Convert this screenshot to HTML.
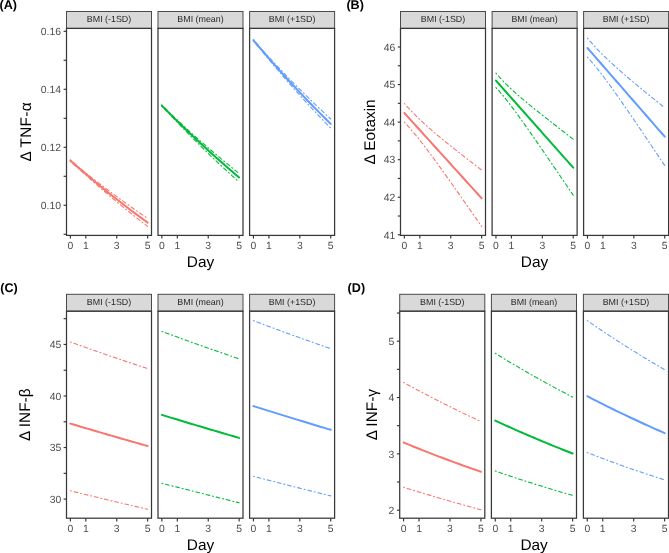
<!DOCTYPE html>
<html><head><meta charset="utf-8"><title>Cytokine trajectories by BMI</title>
<style>html,body{margin:0;padding:0;background:#fff;}body{width:669px;height:553px;overflow:hidden;position:relative;font-family:"Liberation Sans",sans-serif;}svg text{text-rendering:geometricPrecision;}</style>
</head><body>
<svg width="669" height="553" viewBox="0 0 669 553" style="position:absolute;left:0;top:0;will-change:transform">
<rect x="0" y="0" width="669" height="553" fill="#ffffff"/>
<text x="-0.5" y="9.3" font-family='"Liberation Sans", sans-serif' font-weight="bold" font-size="12.6" fill="#000">(A)</text>
<rect x="66.5" y="11.5" width="85" height="16.9" fill="#D9D9D9" stroke="#4A4A4A" stroke-width="1.0"/>
<text x="109" y="22.4" text-anchor="middle" font-family='"Liberation Sans", sans-serif' font-size="8.9" fill="#262626">BMI (-1SD)</text>
<path d="M70.36,159.9 L73.58,162.78 L76.8,165.56 L80.02,168.26 L83.24,170.9 L86.46,173.5 L89.68,176.06 L92.9,178.59 L96.12,181.1 L99.34,183.58 L102.56,186.04 L105.78,188.48 L109,190.89 L112.22,193.29 L115.44,195.66 L118.66,198.02 L121.88,200.36 L125.1,202.68 L128.32,204.98 L131.54,207.26 L134.76,209.52 L137.98,211.77 L141.2,214 L144.42,216.21 L147.64,218.4" fill="none" stroke="#F8766D" stroke-width="1.1" stroke-linecap="round" stroke-linejoin="round" stroke-dasharray="0.95 2.85 3.8 2.85"/>
<path d="M70.36,161.3 L73.58,164.12 L76.8,166.97 L80.02,169.84 L83.24,172.73 L86.46,175.61 L89.68,178.48 L92.9,181.34 L96.12,184.17 L99.34,186.98 L102.56,189.78 L105.78,192.54 L109,195.29 L112.22,198.01 L115.44,200.71 L118.66,203.38 L121.88,206.03 L125.1,208.66 L128.32,211.26 L131.54,213.84 L134.76,216.4 L137.98,218.93 L141.2,221.45 L144.42,223.93 L147.64,226.4" fill="none" stroke="#F8766D" stroke-width="1.1" stroke-linecap="round" stroke-linejoin="round" stroke-dasharray="0.95 2.85 3.8 2.85"/>
<path d="M70.36,160.6 L73.58,163.44 L76.8,166.27 L80.02,169.06 L83.24,171.84 L86.46,174.58 L89.68,177.31 L92.9,180.01 L96.12,182.69 L99.34,185.35 L102.56,187.98 L105.78,190.6 L109,193.19 L112.22,195.75 L115.44,198.3 L118.66,200.82 L121.88,203.33 L125.1,205.81 L128.32,208.27 L131.54,210.71 L134.76,213.13 L137.98,215.53 L141.2,217.9 L144.42,220.26 L147.64,222.6" fill="none" stroke="#F8766D" stroke-width="2.0" stroke-linejoin="round" stroke-linecap="round"/>
<rect x="66.5" y="28.4" width="85" height="207" fill="none" stroke="#383838" stroke-width="1.25"/>
<line x1="70.36" y1="235.4" x2="70.36" y2="238.6" stroke="#333333" stroke-width="1.15"/>
<text x="70.36" y="249.2" text-anchor="middle" font-family='"Liberation Sans", sans-serif' font-size="10.4" fill="#4D4D4D">0</text>
<line x1="85.82" y1="235.4" x2="85.82" y2="238.6" stroke="#333333" stroke-width="1.15"/>
<text x="85.82" y="249.2" text-anchor="middle" font-family='"Liberation Sans", sans-serif' font-size="10.4" fill="#4D4D4D">1</text>
<line x1="116.73" y1="235.4" x2="116.73" y2="238.6" stroke="#333333" stroke-width="1.15"/>
<text x="116.73" y="249.2" text-anchor="middle" font-family='"Liberation Sans", sans-serif' font-size="10.4" fill="#4D4D4D">3</text>
<line x1="147.64" y1="235.4" x2="147.64" y2="238.6" stroke="#333333" stroke-width="1.15"/>
<text x="147.64" y="249.2" text-anchor="middle" font-family='"Liberation Sans", sans-serif' font-size="10.4" fill="#4D4D4D">5</text>
<rect x="158" y="11.5" width="85" height="16.9" fill="#D9D9D9" stroke="#4A4A4A" stroke-width="1.0"/>
<text x="200.5" y="22.4" text-anchor="middle" font-family='"Liberation Sans", sans-serif' font-size="8.9" fill="#262626">BMI (mean)</text>
<path d="M161.86,104.9 L165.08,108.22 L168.3,111.45 L171.52,114.6 L174.74,117.69 L177.96,120.74 L181.18,123.74 L184.4,126.71 L187.62,129.64 L190.84,132.56 L194.06,135.44 L197.28,138.3 L200.5,141.13 L203.72,143.95 L206.94,146.73 L210.16,149.5 L213.38,152.24 L216.6,154.96 L219.82,157.66 L223.04,160.34 L226.26,162.99 L229.48,165.62 L232.7,168.24 L235.92,170.83 L239.14,173.4" fill="none" stroke="#00BA38" stroke-width="1.1" stroke-linecap="round" stroke-linejoin="round" stroke-dasharray="0.95 2.85 3.8 2.85"/>
<path d="M161.86,106.3 L165.08,109.55 L168.3,112.87 L171.52,116.23 L174.74,119.6 L177.96,122.96 L181.18,126.31 L184.4,129.64 L187.62,132.95 L190.84,136.22 L194.06,139.48 L197.28,142.7 L200.5,145.89 L203.72,149.06 L206.94,152.2 L210.16,155.32 L213.38,158.4 L216.6,161.46 L219.82,164.49 L223.04,167.49 L226.26,170.46 L229.48,173.41 L232.7,176.33 L235.92,179.23 L239.14,182.1" fill="none" stroke="#00BA38" stroke-width="1.1" stroke-linecap="round" stroke-linejoin="round" stroke-dasharray="0.95 2.85 3.8 2.85"/>
<path d="M161.86,105.6 L165.08,108.89 L168.3,112.16 L171.52,115.39 L174.74,118.6 L177.96,121.79 L181.18,124.94 L184.4,128.07 L187.62,131.18 L190.84,134.25 L194.06,137.3 L197.28,140.33 L200.5,143.33 L203.72,146.3 L206.94,149.25 L210.16,152.17 L213.38,155.07 L216.6,157.95 L219.82,160.8 L223.04,163.62 L226.26,166.43 L229.48,169.2 L232.7,171.96 L235.92,174.69 L239.14,177.4" fill="none" stroke="#00BA38" stroke-width="2.0" stroke-linejoin="round" stroke-linecap="round"/>
<rect x="158" y="28.4" width="85" height="207" fill="none" stroke="#383838" stroke-width="1.25"/>
<line x1="161.86" y1="235.4" x2="161.86" y2="238.6" stroke="#333333" stroke-width="1.15"/>
<text x="161.86" y="249.2" text-anchor="middle" font-family='"Liberation Sans", sans-serif' font-size="10.4" fill="#4D4D4D">0</text>
<line x1="177.32" y1="235.4" x2="177.32" y2="238.6" stroke="#333333" stroke-width="1.15"/>
<text x="177.32" y="249.2" text-anchor="middle" font-family='"Liberation Sans", sans-serif' font-size="10.4" fill="#4D4D4D">1</text>
<line x1="208.23" y1="235.4" x2="208.23" y2="238.6" stroke="#333333" stroke-width="1.15"/>
<text x="208.23" y="249.2" text-anchor="middle" font-family='"Liberation Sans", sans-serif' font-size="10.4" fill="#4D4D4D">3</text>
<line x1="239.14" y1="235.4" x2="239.14" y2="238.6" stroke="#333333" stroke-width="1.15"/>
<text x="239.14" y="249.2" text-anchor="middle" font-family='"Liberation Sans", sans-serif' font-size="10.4" fill="#4D4D4D">5</text>
<rect x="249.6" y="11.5" width="85" height="16.9" fill="#D9D9D9" stroke="#4A4A4A" stroke-width="1.0"/>
<text x="292.1" y="22.4" text-anchor="middle" font-family='"Liberation Sans", sans-serif' font-size="8.9" fill="#262626">BMI (+1SD)</text>
<path d="M253.46,39.6 L256.68,43.47 L259.9,47.22 L263.12,50.86 L266.34,54.43 L269.56,57.94 L272.78,61.41 L276,64.85 L279.22,68.25 L282.44,71.62 L285.66,74.96 L288.88,78.28 L292.1,81.57 L295.32,84.82 L298.54,88.06 L301.76,91.26 L304.98,94.45 L308.2,97.6 L311.42,100.73 L314.64,103.84 L317.86,106.92 L321.08,109.98 L324.3,113.01 L327.52,116.02 L330.74,119" fill="none" stroke="#619CFF" stroke-width="1.1" stroke-linecap="round" stroke-linejoin="round" stroke-dasharray="0.95 2.85 3.8 2.85"/>
<path d="M253.46,41 L256.68,44.8 L259.9,48.64 L263.12,52.51 L266.34,56.38 L269.56,60.25 L272.78,64.1 L276,67.92 L279.22,71.71 L282.44,75.47 L285.66,79.21 L288.88,82.91 L292.1,86.58 L295.32,90.22 L298.54,93.82 L301.76,97.4 L304.98,100.94 L308.2,104.46 L311.42,107.94 L314.64,111.39 L317.86,114.81 L321.08,118.21 L324.3,121.57 L327.52,124.9 L330.74,128.2" fill="none" stroke="#619CFF" stroke-width="1.1" stroke-linecap="round" stroke-linejoin="round" stroke-dasharray="0.95 2.85 3.8 2.85"/>
<path d="M253.46,40.3 L256.68,44.13 L259.9,47.93 L263.12,51.7 L266.34,55.44 L269.56,59.14 L272.78,62.82 L276,66.46 L279.22,70.07 L282.44,73.65 L285.66,77.21 L288.88,80.73 L292.1,84.22 L295.32,87.68 L298.54,91.12 L301.76,94.52 L304.98,97.9 L308.2,101.24 L311.42,104.56 L314.64,107.85 L317.86,111.12 L321.08,114.35 L324.3,117.56 L327.52,120.74 L330.74,123.9" fill="none" stroke="#619CFF" stroke-width="2.0" stroke-linejoin="round" stroke-linecap="round"/>
<rect x="249.6" y="28.4" width="85" height="207" fill="none" stroke="#383838" stroke-width="1.25"/>
<line x1="253.46" y1="235.4" x2="253.46" y2="238.6" stroke="#333333" stroke-width="1.15"/>
<text x="253.46" y="249.2" text-anchor="middle" font-family='"Liberation Sans", sans-serif' font-size="10.4" fill="#4D4D4D">0</text>
<line x1="268.92" y1="235.4" x2="268.92" y2="238.6" stroke="#333333" stroke-width="1.15"/>
<text x="268.92" y="249.2" text-anchor="middle" font-family='"Liberation Sans", sans-serif' font-size="10.4" fill="#4D4D4D">1</text>
<line x1="299.83" y1="235.4" x2="299.83" y2="238.6" stroke="#333333" stroke-width="1.15"/>
<text x="299.83" y="249.2" text-anchor="middle" font-family='"Liberation Sans", sans-serif' font-size="10.4" fill="#4D4D4D">3</text>
<line x1="330.74" y1="235.4" x2="330.74" y2="238.6" stroke="#333333" stroke-width="1.15"/>
<text x="330.74" y="249.2" text-anchor="middle" font-family='"Liberation Sans", sans-serif' font-size="10.4" fill="#4D4D4D">5</text>
<line x1="63.6" y1="234.3" x2="66.5" y2="234.3" stroke="#333333" stroke-width="1.15"/>
<line x1="63.6" y1="205.3" x2="66.5" y2="205.3" stroke="#333333" stroke-width="1.15"/>
<text x="61" y="209.1" text-anchor="end" font-family='"Liberation Sans", sans-serif' font-size="10.4" fill="#4D4D4D">0.10</text>
<line x1="63.6" y1="176.3" x2="66.5" y2="176.3" stroke="#333333" stroke-width="1.15"/>
<line x1="63.6" y1="147.3" x2="66.5" y2="147.3" stroke="#333333" stroke-width="1.15"/>
<text x="61" y="151.1" text-anchor="end" font-family='"Liberation Sans", sans-serif' font-size="10.4" fill="#4D4D4D">0.12</text>
<line x1="63.6" y1="118.3" x2="66.5" y2="118.3" stroke="#333333" stroke-width="1.15"/>
<line x1="63.6" y1="89.3" x2="66.5" y2="89.3" stroke="#333333" stroke-width="1.15"/>
<text x="61" y="93.1" text-anchor="end" font-family='"Liberation Sans", sans-serif' font-size="10.4" fill="#4D4D4D">0.14</text>
<line x1="63.6" y1="60.3" x2="66.5" y2="60.3" stroke="#333333" stroke-width="1.15"/>
<line x1="63.6" y1="31.3" x2="66.5" y2="31.3" stroke="#333333" stroke-width="1.15"/>
<text x="61" y="35.1" text-anchor="end" font-family='"Liberation Sans", sans-serif' font-size="10.4" fill="#4D4D4D">0.16</text>
<text x="200.55" y="266.7" text-anchor="middle" font-family='"Liberation Sans", sans-serif' font-size="15.4" fill="#000">Day</text>
<text transform="translate(31,131.9) rotate(-90)" x="0" y="0" text-anchor="middle" font-family='"Liberation Sans", sans-serif' font-size="15.4" letter-spacing="0.25" fill="#000">Δ TNF-α</text>
<text x="346.4" y="9.3" font-family='"Liberation Sans", sans-serif' font-weight="bold" font-size="12.6" fill="#000">(B)</text>
<rect x="400.5" y="11.5" width="85" height="16.9" fill="#D9D9D9" stroke="#4A4A4A" stroke-width="1.0"/>
<text x="443" y="22.4" text-anchor="middle" font-family='"Liberation Sans", sans-serif' font-size="8.9" fill="#262626">BMI (-1SD)</text>
<path d="M404.36,103.5 L407.58,107.1 L410.8,110.57 L414.02,113.9 L417.24,117.11 L420.46,120.2 L423.68,123.19 L426.9,126.09 L430.12,128.93 L433.34,131.7 L436.56,134.42 L439.78,137.1 L443,139.75 L446.22,142.37 L449.44,144.96 L452.66,147.53 L455.88,150.08 L459.1,152.62 L462.32,155.14 L465.54,157.66 L468.76,160.16 L471.98,162.66 L475.2,165.14 L478.42,167.63 L481.64,170.1" fill="none" stroke="#F8766D" stroke-width="1.1" stroke-linecap="round" stroke-linejoin="round" stroke-dasharray="0.95 2.85 3.8 2.85"/>
<path d="M404.36,122.1 L407.58,125.6 L410.8,129.25 L414.02,133.04 L417.24,136.96 L420.46,141 L423.68,145.14 L426.9,149.37 L430.12,153.67 L433.34,158.03 L436.56,162.44 L439.78,166.89 L443,171.37 L446.22,175.88 L449.44,180.42 L452.66,184.97 L455.88,189.54 L459.1,194.13 L462.32,198.73 L465.54,203.34 L468.76,207.96 L471.98,212.58 L475.2,217.22 L478.42,221.85 L481.64,226.5" fill="none" stroke="#F8766D" stroke-width="1.1" stroke-linecap="round" stroke-linejoin="round" stroke-dasharray="0.95 2.85 3.8 2.85"/>
<path d="M404.36,113 L407.58,116.55 L410.8,120.11 L414.02,123.66 L417.24,127.22 L420.46,130.77 L423.68,134.32 L426.9,137.88 L430.12,141.43 L433.34,144.99 L436.56,148.54 L439.78,152.1 L443,155.65 L446.22,159.2 L449.44,162.76 L452.66,166.31 L455.88,169.87 L459.1,173.42 L462.32,176.98 L465.54,180.53 L468.76,184.08 L471.98,187.64 L475.2,191.19 L478.42,194.75 L481.64,198.3" fill="none" stroke="#F8766D" stroke-width="2.0" stroke-linejoin="round" stroke-linecap="round"/>
<rect x="400.5" y="28.4" width="85" height="207" fill="none" stroke="#383838" stroke-width="1.25"/>
<line x1="404.36" y1="235.4" x2="404.36" y2="238.6" stroke="#333333" stroke-width="1.15"/>
<text x="404.36" y="249.2" text-anchor="middle" font-family='"Liberation Sans", sans-serif' font-size="10.4" fill="#4D4D4D">0</text>
<line x1="419.82" y1="235.4" x2="419.82" y2="238.6" stroke="#333333" stroke-width="1.15"/>
<text x="419.82" y="249.2" text-anchor="middle" font-family='"Liberation Sans", sans-serif' font-size="10.4" fill="#4D4D4D">1</text>
<line x1="450.73" y1="235.4" x2="450.73" y2="238.6" stroke="#333333" stroke-width="1.15"/>
<text x="450.73" y="249.2" text-anchor="middle" font-family='"Liberation Sans", sans-serif' font-size="10.4" fill="#4D4D4D">3</text>
<line x1="481.64" y1="235.4" x2="481.64" y2="238.6" stroke="#333333" stroke-width="1.15"/>
<text x="481.64" y="249.2" text-anchor="middle" font-family='"Liberation Sans", sans-serif' font-size="10.4" fill="#4D4D4D">5</text>
<rect x="492.1" y="11.5" width="85" height="16.9" fill="#D9D9D9" stroke="#4A4A4A" stroke-width="1.0"/>
<text x="534.6" y="22.4" text-anchor="middle" font-family='"Liberation Sans", sans-serif' font-size="8.9" fill="#262626">BMI (mean)</text>
<path d="M495.96,73.1 L499.18,76.8 L502.4,80.31 L505.62,83.64 L508.84,86.8 L512.06,89.84 L515.28,92.76 L518.5,95.59 L521.72,98.35 L524.94,101.06 L528.16,103.73 L531.38,106.36 L534.6,108.96 L537.82,111.55 L541.04,114.11 L544.26,116.66 L547.48,119.19 L550.7,121.72 L553.92,124.23 L557.14,126.74 L560.36,129.24 L563.58,131.74 L566.8,134.23 L570.02,136.72 L573.24,139.2" fill="none" stroke="#00BA38" stroke-width="1.1" stroke-linecap="round" stroke-linejoin="round" stroke-dasharray="0.95 2.85 3.8 2.85"/>
<path d="M495.96,87.6 L499.18,91.16 L502.4,94.91 L505.62,98.84 L508.84,102.93 L512.06,107.15 L515.28,111.48 L518.5,115.9 L521.72,120.38 L524.94,124.91 L528.16,129.48 L531.38,134.08 L534.6,138.71 L537.82,143.36 L541.04,148.03 L544.26,152.71 L547.48,157.41 L550.7,162.11 L553.92,166.82 L557.14,171.54 L560.36,176.26 L563.58,180.99 L566.8,185.72 L570.02,190.46 L573.24,195.2" fill="none" stroke="#00BA38" stroke-width="1.1" stroke-linecap="round" stroke-linejoin="round" stroke-dasharray="0.95 2.85 3.8 2.85"/>
<path d="M495.96,80.6 L499.18,84.23 L502.4,87.86 L505.62,91.49 L508.84,95.12 L512.06,98.75 L515.28,102.38 L518.5,106 L521.72,109.63 L524.94,113.26 L528.16,116.89 L531.38,120.52 L534.6,124.15 L537.82,127.78 L541.04,131.41 L544.26,135.04 L547.48,138.67 L550.7,142.3 L553.92,145.92 L557.14,149.55 L560.36,153.18 L563.58,156.81 L566.8,160.44 L570.02,164.07 L573.24,167.7" fill="none" stroke="#00BA38" stroke-width="2.0" stroke-linejoin="round" stroke-linecap="round"/>
<rect x="492.1" y="28.4" width="85" height="207" fill="none" stroke="#383838" stroke-width="1.25"/>
<line x1="495.96" y1="235.4" x2="495.96" y2="238.6" stroke="#333333" stroke-width="1.15"/>
<text x="495.96" y="249.2" text-anchor="middle" font-family='"Liberation Sans", sans-serif' font-size="10.4" fill="#4D4D4D">0</text>
<line x1="511.42" y1="235.4" x2="511.42" y2="238.6" stroke="#333333" stroke-width="1.15"/>
<text x="511.42" y="249.2" text-anchor="middle" font-family='"Liberation Sans", sans-serif' font-size="10.4" fill="#4D4D4D">1</text>
<line x1="542.33" y1="235.4" x2="542.33" y2="238.6" stroke="#333333" stroke-width="1.15"/>
<text x="542.33" y="249.2" text-anchor="middle" font-family='"Liberation Sans", sans-serif' font-size="10.4" fill="#4D4D4D">3</text>
<line x1="573.24" y1="235.4" x2="573.24" y2="238.6" stroke="#333333" stroke-width="1.15"/>
<text x="573.24" y="249.2" text-anchor="middle" font-family='"Liberation Sans", sans-serif' font-size="10.4" fill="#4D4D4D">5</text>
<rect x="583.6" y="11.5" width="85" height="16.9" fill="#D9D9D9" stroke="#4A4A4A" stroke-width="1.0"/>
<text x="626.1" y="22.4" text-anchor="middle" font-family='"Liberation Sans", sans-serif' font-size="8.9" fill="#262626">BMI (+1SD)</text>
<path d="M587.46,38.2 L590.68,41.95 L593.9,45.55 L597.12,49.02 L600.34,52.36 L603.56,55.59 L606.78,58.71 L610,61.74 L613.22,64.7 L616.44,67.6 L619.66,70.45 L622.88,73.26 L626.1,76.03 L629.32,78.76 L632.54,81.48 L635.76,84.17 L638.98,86.84 L642.2,89.5 L645.42,92.14 L648.64,94.77 L651.86,97.39 L655.08,100.01 L658.3,102.61 L661.52,105.21 L664.74,107.8" fill="none" stroke="#619CFF" stroke-width="1.1" stroke-linecap="round" stroke-linejoin="round" stroke-dasharray="0.95 2.85 3.8 2.85"/>
<path d="M587.46,57.1 L590.68,60.74 L593.9,64.53 L597.12,68.48 L600.34,72.56 L603.56,76.76 L606.78,81.07 L610,85.46 L613.22,89.93 L616.44,94.46 L619.66,99.04 L622.88,103.66 L626.1,108.32 L629.32,113 L632.54,117.71 L635.76,122.43 L638.98,127.18 L642.2,131.93 L645.42,136.7 L648.64,141.48 L651.86,146.27 L655.08,151.07 L658.3,155.87 L661.52,160.68 L664.74,165.5" fill="none" stroke="#619CFF" stroke-width="1.1" stroke-linecap="round" stroke-linejoin="round" stroke-dasharray="0.95 2.85 3.8 2.85"/>
<path d="M587.46,48 L590.68,51.7 L593.9,55.39 L597.12,59.09 L600.34,62.78 L603.56,66.48 L606.78,70.18 L610,73.87 L613.22,77.57 L616.44,81.26 L619.66,84.96 L622.88,88.65 L626.1,92.35 L629.32,96.05 L632.54,99.74 L635.76,103.44 L638.98,107.13 L642.2,110.83 L645.42,114.52 L648.64,118.22 L651.86,121.92 L655.08,125.61 L658.3,129.31 L661.52,133 L664.74,136.7" fill="none" stroke="#619CFF" stroke-width="2.0" stroke-linejoin="round" stroke-linecap="round"/>
<rect x="583.6" y="28.4" width="85" height="207" fill="none" stroke="#383838" stroke-width="1.25"/>
<line x1="587.46" y1="235.4" x2="587.46" y2="238.6" stroke="#333333" stroke-width="1.15"/>
<text x="587.46" y="249.2" text-anchor="middle" font-family='"Liberation Sans", sans-serif' font-size="10.4" fill="#4D4D4D">0</text>
<line x1="602.92" y1="235.4" x2="602.92" y2="238.6" stroke="#333333" stroke-width="1.15"/>
<text x="602.92" y="249.2" text-anchor="middle" font-family='"Liberation Sans", sans-serif' font-size="10.4" fill="#4D4D4D">1</text>
<line x1="633.83" y1="235.4" x2="633.83" y2="238.6" stroke="#333333" stroke-width="1.15"/>
<text x="633.83" y="249.2" text-anchor="middle" font-family='"Liberation Sans", sans-serif' font-size="10.4" fill="#4D4D4D">3</text>
<line x1="664.74" y1="235.4" x2="664.74" y2="238.6" stroke="#333333" stroke-width="1.15"/>
<text x="664.74" y="249.2" text-anchor="middle" font-family='"Liberation Sans", sans-serif' font-size="10.4" fill="#4D4D4D">5</text>
<line x1="397.8" y1="234.8" x2="400.5" y2="234.8" stroke="#333333" stroke-width="1.15"/>
<text x="395.2" y="238.6" text-anchor="end" font-family='"Liberation Sans", sans-serif' font-size="10.4" fill="#4D4D4D">41</text>
<line x1="397.8" y1="216.02" x2="400.5" y2="216.02" stroke="#333333" stroke-width="1.15"/>
<line x1="397.8" y1="197.24" x2="400.5" y2="197.24" stroke="#333333" stroke-width="1.15"/>
<text x="395.2" y="201.04" text-anchor="end" font-family='"Liberation Sans", sans-serif' font-size="10.4" fill="#4D4D4D">42</text>
<line x1="397.8" y1="178.46" x2="400.5" y2="178.46" stroke="#333333" stroke-width="1.15"/>
<line x1="397.8" y1="159.68" x2="400.5" y2="159.68" stroke="#333333" stroke-width="1.15"/>
<text x="395.2" y="163.48" text-anchor="end" font-family='"Liberation Sans", sans-serif' font-size="10.4" fill="#4D4D4D">43</text>
<line x1="397.8" y1="140.9" x2="400.5" y2="140.9" stroke="#333333" stroke-width="1.15"/>
<line x1="397.8" y1="122.12" x2="400.5" y2="122.12" stroke="#333333" stroke-width="1.15"/>
<text x="395.2" y="125.92" text-anchor="end" font-family='"Liberation Sans", sans-serif' font-size="10.4" fill="#4D4D4D">44</text>
<line x1="397.8" y1="103.34" x2="400.5" y2="103.34" stroke="#333333" stroke-width="1.15"/>
<line x1="397.8" y1="84.56" x2="400.5" y2="84.56" stroke="#333333" stroke-width="1.15"/>
<text x="395.2" y="88.36" text-anchor="end" font-family='"Liberation Sans", sans-serif' font-size="10.4" fill="#4D4D4D">45</text>
<line x1="397.8" y1="65.78" x2="400.5" y2="65.78" stroke="#333333" stroke-width="1.15"/>
<line x1="397.8" y1="47" x2="400.5" y2="47" stroke="#333333" stroke-width="1.15"/>
<text x="395.2" y="50.8" text-anchor="end" font-family='"Liberation Sans", sans-serif' font-size="10.4" fill="#4D4D4D">46</text>
<text x="534.55" y="266.7" text-anchor="middle" font-family='"Liberation Sans", sans-serif' font-size="15.4" fill="#000">Day</text>
<text transform="translate(375,131.9) rotate(-90)" x="0" y="0" text-anchor="middle" font-family='"Liberation Sans", sans-serif' font-size="15.4" letter-spacing="0" fill="#000">Δ Eotaxin</text>
<text x="0.3" y="291.9" font-family='"Liberation Sans", sans-serif' font-weight="bold" font-size="12.6" fill="#000">(C)</text>
<rect x="66.5" y="294.3" width="85" height="16.9" fill="#D9D9D9" stroke="#4A4A4A" stroke-width="1.0"/>
<text x="109" y="305.2" text-anchor="middle" font-family='"Liberation Sans", sans-serif' font-size="8.9" fill="#262626">BMI (-1SD)</text>
<path d="M70.36,342 L73.58,343.16 L76.8,344.32 L80.02,345.48 L83.24,346.63 L86.46,347.77 L89.68,348.91 L92.9,350.05 L96.12,351.18 L99.34,352.3 L102.56,353.42 L105.78,354.54 L109,355.65 L112.22,356.75 L115.44,357.85 L118.66,358.95 L121.88,360.04 L125.1,361.13 L128.32,362.21 L131.54,363.29 L134.76,364.36 L137.98,365.42 L141.2,366.49 L144.42,367.55 L147.64,368.6" fill="none" stroke="#F8766D" stroke-width="1.1" stroke-linecap="round" stroke-linejoin="round" stroke-dasharray="0.95 2.85 3.8 2.85"/>
<path d="M70.36,490.8 L73.58,491.59 L76.8,492.38 L80.02,493.17 L83.24,493.96 L86.46,494.74 L89.68,495.53 L92.9,496.31 L96.12,497.09 L99.34,497.86 L102.56,498.64 L105.78,499.41 L109,500.19 L112.22,500.96 L115.44,501.72 L118.66,502.49 L121.88,503.25 L125.1,504.02 L128.32,504.78 L131.54,505.53 L134.76,506.29 L137.98,507.05 L141.2,507.8 L144.42,508.55 L147.64,509.3" fill="none" stroke="#F8766D" stroke-width="1.1" stroke-linecap="round" stroke-linejoin="round" stroke-dasharray="0.95 2.85 3.8 2.85"/>
<path d="M70.36,423.6 L73.58,424.56 L76.8,425.52 L80.02,426.47 L83.24,427.43 L86.46,428.38 L89.68,429.33 L92.9,430.27 L96.12,431.22 L99.34,432.16 L102.56,433.1 L105.78,434.03 L109,434.97 L112.22,435.9 L115.44,436.83 L118.66,437.76 L121.88,438.68 L125.1,439.6 L128.32,440.53 L131.54,441.44 L134.76,442.36 L137.98,443.27 L141.2,444.18 L144.42,445.09 L147.64,446" fill="none" stroke="#F8766D" stroke-width="2.0" stroke-linejoin="round" stroke-linecap="round"/>
<rect x="66.5" y="311.2" width="85" height="207" fill="none" stroke="#383838" stroke-width="1.25"/>
<line x1="70.36" y1="518.2" x2="70.36" y2="521.4" stroke="#333333" stroke-width="1.15"/>
<text x="70.36" y="532" text-anchor="middle" font-family='"Liberation Sans", sans-serif' font-size="10.4" fill="#4D4D4D">0</text>
<line x1="85.82" y1="518.2" x2="85.82" y2="521.4" stroke="#333333" stroke-width="1.15"/>
<text x="85.82" y="532" text-anchor="middle" font-family='"Liberation Sans", sans-serif' font-size="10.4" fill="#4D4D4D">1</text>
<line x1="116.73" y1="518.2" x2="116.73" y2="521.4" stroke="#333333" stroke-width="1.15"/>
<text x="116.73" y="532" text-anchor="middle" font-family='"Liberation Sans", sans-serif' font-size="10.4" fill="#4D4D4D">3</text>
<line x1="147.64" y1="518.2" x2="147.64" y2="521.4" stroke="#333333" stroke-width="1.15"/>
<text x="147.64" y="532" text-anchor="middle" font-family='"Liberation Sans", sans-serif' font-size="10.4" fill="#4D4D4D">5</text>
<rect x="158" y="294.3" width="85" height="16.9" fill="#D9D9D9" stroke="#4A4A4A" stroke-width="1.0"/>
<text x="200.5" y="305.2" text-anchor="middle" font-family='"Liberation Sans", sans-serif' font-size="8.9" fill="#262626">BMI (mean)</text>
<path d="M161.86,331.4 L165.08,332.6 L168.3,333.79 L171.52,334.97 L174.74,336.16 L177.96,337.33 L181.18,338.5 L184.4,339.67 L187.62,340.83 L190.84,341.99 L194.06,343.14 L197.28,344.29 L200.5,345.44 L203.72,346.57 L206.94,347.71 L210.16,348.84 L213.38,349.96 L216.6,351.08 L219.82,352.2 L223.04,353.31 L226.26,354.42 L229.48,355.52 L232.7,356.62 L235.92,357.71 L239.14,358.8" fill="none" stroke="#00BA38" stroke-width="1.1" stroke-linecap="round" stroke-linejoin="round" stroke-dasharray="0.95 2.85 3.8 2.85"/>
<path d="M161.86,483.3 L165.08,484.11 L168.3,484.93 L171.52,485.74 L174.74,486.56 L177.96,487.37 L181.18,488.18 L184.4,489 L187.62,489.81 L190.84,490.62 L194.06,491.44 L197.28,492.25 L200.5,493.06 L203.72,493.88 L206.94,494.69 L210.16,495.5 L213.38,496.31 L216.6,497.12 L219.82,497.94 L223.04,498.75 L226.26,499.56 L229.48,500.37 L232.7,501.18 L235.92,501.99 L239.14,502.8" fill="none" stroke="#00BA38" stroke-width="1.1" stroke-linecap="round" stroke-linejoin="round" stroke-dasharray="0.95 2.85 3.8 2.85"/>
<path d="M161.86,414.9 L165.08,415.89 L168.3,416.87 L171.52,417.85 L174.74,418.83 L177.96,419.81 L181.18,420.78 L184.4,421.75 L187.62,422.72 L190.84,423.69 L194.06,424.65 L197.28,425.61 L200.5,426.57 L203.72,427.53 L206.94,428.48 L210.16,429.44 L213.38,430.39 L216.6,431.33 L219.82,432.28 L223.04,433.22 L226.26,434.16 L229.48,435.1 L232.7,436.04 L235.92,436.97 L239.14,437.9" fill="none" stroke="#00BA38" stroke-width="2.0" stroke-linejoin="round" stroke-linecap="round"/>
<rect x="158" y="311.2" width="85" height="207" fill="none" stroke="#383838" stroke-width="1.25"/>
<line x1="161.86" y1="518.2" x2="161.86" y2="521.4" stroke="#333333" stroke-width="1.15"/>
<text x="161.86" y="532" text-anchor="middle" font-family='"Liberation Sans", sans-serif' font-size="10.4" fill="#4D4D4D">0</text>
<line x1="177.32" y1="518.2" x2="177.32" y2="521.4" stroke="#333333" stroke-width="1.15"/>
<text x="177.32" y="532" text-anchor="middle" font-family='"Liberation Sans", sans-serif' font-size="10.4" fill="#4D4D4D">1</text>
<line x1="208.23" y1="518.2" x2="208.23" y2="521.4" stroke="#333333" stroke-width="1.15"/>
<text x="208.23" y="532" text-anchor="middle" font-family='"Liberation Sans", sans-serif' font-size="10.4" fill="#4D4D4D">3</text>
<line x1="239.14" y1="518.2" x2="239.14" y2="521.4" stroke="#333333" stroke-width="1.15"/>
<text x="239.14" y="532" text-anchor="middle" font-family='"Liberation Sans", sans-serif' font-size="10.4" fill="#4D4D4D">5</text>
<rect x="249.6" y="294.3" width="85" height="16.9" fill="#D9D9D9" stroke="#4A4A4A" stroke-width="1.0"/>
<text x="292.1" y="305.2" text-anchor="middle" font-family='"Liberation Sans", sans-serif' font-size="8.9" fill="#262626">BMI (+1SD)</text>
<path d="M253.46,320.6 L256.68,321.83 L259.9,323.06 L263.12,324.28 L266.34,325.5 L269.56,326.71 L272.78,327.91 L276,329.11 L279.22,330.3 L282.44,331.49 L285.66,332.67 L288.88,333.84 L292.1,335.01 L295.32,336.17 L298.54,337.33 L301.76,338.48 L304.98,339.63 L308.2,340.77 L311.42,341.9 L314.64,343.03 L317.86,344.16 L321.08,345.28 L324.3,346.39 L327.52,347.5 L330.74,348.6" fill="none" stroke="#619CFF" stroke-width="1.1" stroke-linecap="round" stroke-linejoin="round" stroke-dasharray="0.95 2.85 3.8 2.85"/>
<path d="M253.46,476.3 L256.68,477.14 L259.9,477.98 L263.12,478.81 L266.34,479.64 L269.56,480.48 L272.78,481.3 L276,482.13 L279.22,482.96 L282.44,483.78 L285.66,484.6 L288.88,485.42 L292.1,486.24 L295.32,487.05 L298.54,487.87 L301.76,488.68 L304.98,489.49 L308.2,490.3 L311.42,491.1 L314.64,491.91 L317.86,492.71 L321.08,493.51 L324.3,494.31 L327.52,495.11 L330.74,495.9" fill="none" stroke="#619CFF" stroke-width="1.1" stroke-linecap="round" stroke-linejoin="round" stroke-dasharray="0.95 2.85 3.8 2.85"/>
<path d="M253.46,406.1 L256.68,407.12 L259.9,408.13 L263.12,409.14 L266.34,410.15 L269.56,411.16 L272.78,412.16 L276,413.16 L279.22,414.16 L282.44,415.16 L285.66,416.15 L288.88,417.14 L292.1,418.13 L295.32,419.12 L298.54,420.1 L301.76,421.08 L304.98,422.06 L308.2,423.04 L311.42,424.01 L314.64,424.98 L317.86,425.95 L321.08,426.92 L324.3,427.88 L327.52,428.84 L330.74,429.8" fill="none" stroke="#619CFF" stroke-width="2.0" stroke-linejoin="round" stroke-linecap="round"/>
<rect x="249.6" y="311.2" width="85" height="207" fill="none" stroke="#383838" stroke-width="1.25"/>
<line x1="253.46" y1="518.2" x2="253.46" y2="521.4" stroke="#333333" stroke-width="1.15"/>
<text x="253.46" y="532" text-anchor="middle" font-family='"Liberation Sans", sans-serif' font-size="10.4" fill="#4D4D4D">0</text>
<line x1="268.92" y1="518.2" x2="268.92" y2="521.4" stroke="#333333" stroke-width="1.15"/>
<text x="268.92" y="532" text-anchor="middle" font-family='"Liberation Sans", sans-serif' font-size="10.4" fill="#4D4D4D">1</text>
<line x1="299.83" y1="518.2" x2="299.83" y2="521.4" stroke="#333333" stroke-width="1.15"/>
<text x="299.83" y="532" text-anchor="middle" font-family='"Liberation Sans", sans-serif' font-size="10.4" fill="#4D4D4D">3</text>
<line x1="330.74" y1="518.2" x2="330.74" y2="521.4" stroke="#333333" stroke-width="1.15"/>
<text x="330.74" y="532" text-anchor="middle" font-family='"Liberation Sans", sans-serif' font-size="10.4" fill="#4D4D4D">5</text>
<line x1="63.6" y1="499.1" x2="66.5" y2="499.1" stroke="#333333" stroke-width="1.15"/>
<text x="61.2" y="502.9" text-anchor="end" font-family='"Liberation Sans", sans-serif' font-size="10.4" fill="#4D4D4D">30</text>
<line x1="63.6" y1="473.33" x2="66.5" y2="473.33" stroke="#333333" stroke-width="1.15"/>
<line x1="63.6" y1="447.55" x2="66.5" y2="447.55" stroke="#333333" stroke-width="1.15"/>
<text x="61.2" y="451.35" text-anchor="end" font-family='"Liberation Sans", sans-serif' font-size="10.4" fill="#4D4D4D">35</text>
<line x1="63.6" y1="421.78" x2="66.5" y2="421.78" stroke="#333333" stroke-width="1.15"/>
<line x1="63.6" y1="396" x2="66.5" y2="396" stroke="#333333" stroke-width="1.15"/>
<text x="61.2" y="399.8" text-anchor="end" font-family='"Liberation Sans", sans-serif' font-size="10.4" fill="#4D4D4D">40</text>
<line x1="63.6" y1="370.23" x2="66.5" y2="370.23" stroke="#333333" stroke-width="1.15"/>
<line x1="63.6" y1="344.45" x2="66.5" y2="344.45" stroke="#333333" stroke-width="1.15"/>
<text x="61.2" y="348.25" text-anchor="end" font-family='"Liberation Sans", sans-serif' font-size="10.4" fill="#4D4D4D">45</text>
<line x1="63.6" y1="318.68" x2="66.5" y2="318.68" stroke="#333333" stroke-width="1.15"/>
<text x="200.55" y="549.5" text-anchor="middle" font-family='"Liberation Sans", sans-serif' font-size="15.4" fill="#000">Day</text>
<text transform="translate(30,414.7) rotate(-90)" x="0" y="0" text-anchor="middle" font-family='"Liberation Sans", sans-serif' font-size="15.4" letter-spacing="0" fill="#000">Δ INF-β</text>
<text x="347.6" y="291.5" font-family='"Liberation Sans", sans-serif' font-weight="bold" font-size="12.6" fill="#000">(D)</text>
<rect x="399.7" y="294.3" width="85.1" height="16.9" fill="#D9D9D9" stroke="#4A4A4A" stroke-width="1.0"/>
<text x="442.25" y="305.2" text-anchor="middle" font-family='"Liberation Sans", sans-serif' font-size="8.9" fill="#262626">BMI (-1SD)</text>
<path d="M403.57,382.4 L406.79,384.17 L410.02,385.93 L413.24,387.67 L416.46,389.4 L419.69,391.12 L422.91,392.83 L426.13,394.52 L429.36,396.2 L432.58,397.87 L435.8,399.53 L439.03,401.17 L442.25,402.81 L445.47,404.43 L448.7,406.04 L451.92,407.63 L455.14,409.22 L458.37,410.79 L461.59,412.36 L464.81,413.91 L468.04,415.45 L471.26,416.98 L474.48,418.5 L477.71,420 L480.93,421.5" fill="none" stroke="#F8766D" stroke-width="1.1" stroke-linecap="round" stroke-linejoin="round" stroke-dasharray="0.95 2.85 3.8 2.85"/>
<path d="M403.57,487.3 L406.79,488.3 L410.02,489.29 L413.24,490.27 L416.46,491.26 L419.69,492.23 L422.91,493.2 L426.13,494.17 L429.36,495.13 L432.58,496.08 L435.8,497.03 L439.03,497.98 L442.25,498.92 L445.47,499.85 L448.7,500.78 L451.92,501.71 L455.14,502.63 L458.37,503.54 L461.59,504.45 L464.81,505.36 L468.04,506.25 L471.26,507.15 L474.48,508.04 L477.71,508.92 L480.93,509.8" fill="none" stroke="#F8766D" stroke-width="1.1" stroke-linecap="round" stroke-linejoin="round" stroke-dasharray="0.95 2.85 3.8 2.85"/>
<path d="M403.57,442.5 L406.79,443.83 L410.02,445.14 L413.24,446.45 L416.46,447.75 L419.69,449.04 L422.91,450.32 L426.13,451.59 L429.36,452.85 L432.58,454.1 L435.8,455.34 L439.03,456.58 L442.25,457.8 L445.47,459.01 L448.7,460.22 L451.92,461.42 L455.14,462.6 L458.37,463.78 L461.59,464.95 L464.81,466.12 L468.04,467.27 L471.26,468.42 L474.48,469.55 L477.71,470.68 L480.93,471.8" fill="none" stroke="#F8766D" stroke-width="2.0" stroke-linejoin="round" stroke-linecap="round"/>
<rect x="399.7" y="311.2" width="85.1" height="207" fill="none" stroke="#383838" stroke-width="1.25"/>
<line x1="403.57" y1="518.2" x2="403.57" y2="521.4" stroke="#333333" stroke-width="1.15"/>
<text x="403.57" y="532" text-anchor="middle" font-family='"Liberation Sans", sans-serif' font-size="10.4" fill="#4D4D4D">0</text>
<line x1="419.04" y1="518.2" x2="419.04" y2="521.4" stroke="#333333" stroke-width="1.15"/>
<text x="419.04" y="532" text-anchor="middle" font-family='"Liberation Sans", sans-serif' font-size="10.4" fill="#4D4D4D">1</text>
<line x1="449.99" y1="518.2" x2="449.99" y2="521.4" stroke="#333333" stroke-width="1.15"/>
<text x="449.99" y="532" text-anchor="middle" font-family='"Liberation Sans", sans-serif' font-size="10.4" fill="#4D4D4D">3</text>
<line x1="480.93" y1="518.2" x2="480.93" y2="521.4" stroke="#333333" stroke-width="1.15"/>
<text x="480.93" y="532" text-anchor="middle" font-family='"Liberation Sans", sans-serif' font-size="10.4" fill="#4D4D4D">5</text>
<rect x="491.4" y="294.3" width="85.1" height="16.9" fill="#D9D9D9" stroke="#4A4A4A" stroke-width="1.0"/>
<text x="533.95" y="305.2" text-anchor="middle" font-family='"Liberation Sans", sans-serif' font-size="8.9" fill="#262626">BMI (mean)</text>
<path d="M495.27,353.3 L498.49,355.29 L501.72,357.26 L504.94,359.22 L508.16,361.16 L511.39,363.09 L514.61,365 L517.83,366.9 L521.06,368.78 L524.28,370.65 L527.5,372.51 L530.73,374.35 L533.95,376.18 L537.17,378 L540.4,379.8 L543.62,381.59 L546.84,383.37 L550.07,385.13 L553.29,386.88 L556.51,388.61 L559.74,390.34 L562.96,392.05 L566.18,393.74 L569.41,395.43 L572.63,397.1" fill="none" stroke="#00BA38" stroke-width="1.1" stroke-linecap="round" stroke-linejoin="round" stroke-dasharray="0.95 2.85 3.8 2.85"/>
<path d="M495.27,471 L498.49,472.12 L501.72,473.23 L504.94,474.33 L508.16,475.42 L511.39,476.5 L514.61,477.58 L517.83,478.64 L521.06,479.69 L524.28,480.74 L527.5,481.78 L530.73,482.8 L533.95,483.82 L537.17,484.83 L540.4,485.84 L543.62,486.83 L546.84,487.81 L550.07,488.79 L553.29,489.76 L556.51,490.72 L559.74,491.67 L562.96,492.62 L566.18,493.55 L569.41,494.48 L572.63,495.4" fill="none" stroke="#00BA38" stroke-width="1.1" stroke-linecap="round" stroke-linejoin="round" stroke-dasharray="0.95 2.85 3.8 2.85"/>
<path d="M495.27,420.6 L498.49,422.09 L501.72,423.57 L504.94,425.04 L508.16,426.5 L511.39,427.94 L514.61,429.38 L517.83,430.81 L521.06,432.22 L524.28,433.63 L527.5,435.02 L530.73,436.41 L533.95,437.78 L537.17,439.14 L540.4,440.5 L543.62,441.84 L546.84,443.18 L550.07,444.5 L553.29,445.81 L556.51,447.12 L559.74,448.41 L562.96,449.7 L566.18,450.98 L569.41,452.24 L572.63,453.5" fill="none" stroke="#00BA38" stroke-width="2.0" stroke-linejoin="round" stroke-linecap="round"/>
<rect x="491.4" y="311.2" width="85.1" height="207" fill="none" stroke="#383838" stroke-width="1.25"/>
<line x1="495.27" y1="518.2" x2="495.27" y2="521.4" stroke="#333333" stroke-width="1.15"/>
<text x="495.27" y="532" text-anchor="middle" font-family='"Liberation Sans", sans-serif' font-size="10.4" fill="#4D4D4D">0</text>
<line x1="510.74" y1="518.2" x2="510.74" y2="521.4" stroke="#333333" stroke-width="1.15"/>
<text x="510.74" y="532" text-anchor="middle" font-family='"Liberation Sans", sans-serif' font-size="10.4" fill="#4D4D4D">1</text>
<line x1="541.69" y1="518.2" x2="541.69" y2="521.4" stroke="#333333" stroke-width="1.15"/>
<text x="541.69" y="532" text-anchor="middle" font-family='"Liberation Sans", sans-serif' font-size="10.4" fill="#4D4D4D">3</text>
<line x1="572.63" y1="518.2" x2="572.63" y2="521.4" stroke="#333333" stroke-width="1.15"/>
<text x="572.63" y="532" text-anchor="middle" font-family='"Liberation Sans", sans-serif' font-size="10.4" fill="#4D4D4D">5</text>
<rect x="583.4" y="294.3" width="85.1" height="16.9" fill="#D9D9D9" stroke="#4A4A4A" stroke-width="1.0"/>
<text x="625.95" y="305.2" text-anchor="middle" font-family='"Liberation Sans", sans-serif' font-size="8.9" fill="#262626">BMI (+1SD)</text>
<path d="M587.27,320.6 L590.49,322.83 L593.72,325.04 L596.94,327.24 L600.16,329.42 L603.39,331.58 L606.61,333.73 L609.83,335.86 L613.06,337.97 L616.28,340.07 L619.5,342.15 L622.73,344.22 L625.95,346.27 L629.17,348.3 L632.4,350.32 L635.62,352.33 L638.84,354.32 L642.07,356.29 L645.29,358.25 L648.51,360.2 L651.74,362.13 L654.96,364.04 L658.18,365.94 L661.41,367.83 L664.63,369.7" fill="none" stroke="#619CFF" stroke-width="1.1" stroke-linecap="round" stroke-linejoin="round" stroke-dasharray="0.95 2.85 3.8 2.85"/>
<path d="M587.27,452.6 L590.49,453.86 L593.72,455.1 L596.94,456.34 L600.16,457.56 L603.39,458.77 L606.61,459.98 L609.83,461.17 L613.06,462.35 L616.28,463.52 L619.5,464.68 L622.73,465.83 L625.95,466.97 L629.17,468.1 L632.4,469.22 L635.62,470.33 L638.84,471.43 L642.07,472.52 L645.29,473.6 L648.51,474.68 L651.74,475.74 L654.96,476.79 L658.18,477.84 L661.41,478.87 L664.63,479.9" fill="none" stroke="#619CFF" stroke-width="1.1" stroke-linecap="round" stroke-linejoin="round" stroke-dasharray="0.95 2.85 3.8 2.85"/>
<path d="M587.27,396.2 L590.49,397.87 L593.72,399.53 L596.94,401.18 L600.16,402.81 L603.39,404.44 L606.61,406.05 L609.83,407.65 L613.06,409.24 L616.28,410.81 L619.5,412.38 L622.73,413.93 L625.95,415.47 L629.17,417 L632.4,418.52 L635.62,420.02 L638.84,421.52 L642.07,423.01 L645.29,424.48 L648.51,425.94 L651.74,427.4 L654.96,428.84 L658.18,430.27 L661.41,431.69 L664.63,433.1" fill="none" stroke="#619CFF" stroke-width="2.0" stroke-linejoin="round" stroke-linecap="round"/>
<rect x="583.4" y="311.2" width="85.1" height="207" fill="none" stroke="#383838" stroke-width="1.25"/>
<line x1="587.27" y1="518.2" x2="587.27" y2="521.4" stroke="#333333" stroke-width="1.15"/>
<text x="587.27" y="532" text-anchor="middle" font-family='"Liberation Sans", sans-serif' font-size="10.4" fill="#4D4D4D">0</text>
<line x1="602.74" y1="518.2" x2="602.74" y2="521.4" stroke="#333333" stroke-width="1.15"/>
<text x="602.74" y="532" text-anchor="middle" font-family='"Liberation Sans", sans-serif' font-size="10.4" fill="#4D4D4D">1</text>
<line x1="633.69" y1="518.2" x2="633.69" y2="521.4" stroke="#333333" stroke-width="1.15"/>
<text x="633.69" y="532" text-anchor="middle" font-family='"Liberation Sans", sans-serif' font-size="10.4" fill="#4D4D4D">3</text>
<line x1="664.63" y1="518.2" x2="664.63" y2="521.4" stroke="#333333" stroke-width="1.15"/>
<text x="664.63" y="532" text-anchor="middle" font-family='"Liberation Sans", sans-serif' font-size="10.4" fill="#4D4D4D">5</text>
<line x1="396.9" y1="510.19" x2="399.7" y2="510.19" stroke="#333333" stroke-width="1.15"/>
<text x="394.2" y="513.99" text-anchor="end" font-family='"Liberation Sans", sans-serif' font-size="10.4" fill="#4D4D4D">2</text>
<line x1="396.9" y1="482.02" x2="399.7" y2="482.02" stroke="#333333" stroke-width="1.15"/>
<line x1="396.9" y1="453.86" x2="399.7" y2="453.86" stroke="#333333" stroke-width="1.15"/>
<text x="394.2" y="457.66" text-anchor="end" font-family='"Liberation Sans", sans-serif' font-size="10.4" fill="#4D4D4D">3</text>
<line x1="396.9" y1="425.69" x2="399.7" y2="425.69" stroke="#333333" stroke-width="1.15"/>
<line x1="396.9" y1="397.53" x2="399.7" y2="397.53" stroke="#333333" stroke-width="1.15"/>
<text x="394.2" y="401.33" text-anchor="end" font-family='"Liberation Sans", sans-serif' font-size="10.4" fill="#4D4D4D">4</text>
<line x1="396.9" y1="369.37" x2="399.7" y2="369.37" stroke="#333333" stroke-width="1.15"/>
<line x1="396.9" y1="341.2" x2="399.7" y2="341.2" stroke="#333333" stroke-width="1.15"/>
<text x="394.2" y="345" text-anchor="end" font-family='"Liberation Sans", sans-serif' font-size="10.4" fill="#4D4D4D">5</text>
<line x1="396.9" y1="313.03" x2="399.7" y2="313.03" stroke="#333333" stroke-width="1.15"/>
<text x="534.1" y="549.5" text-anchor="middle" font-family='"Liberation Sans", sans-serif' font-size="15.4" fill="#000">Day</text>
<text transform="translate(377,414.7) rotate(-90)" x="0" y="0" text-anchor="middle" font-family='"Liberation Sans", sans-serif' font-size="15.4" letter-spacing="0" fill="#000">Δ INF-γ</text>
</svg>
</body></html>
